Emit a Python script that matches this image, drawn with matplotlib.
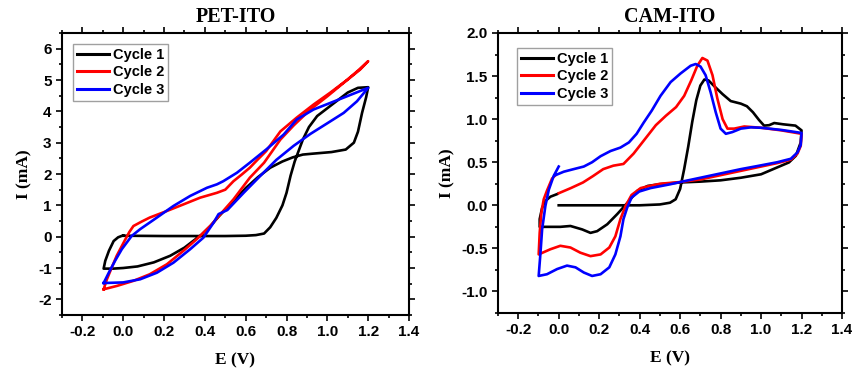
import matplotlib
matplotlib.use("Agg")
from matplotlib import pyplot as plt
from matplotlib.ticker import MultipleLocator, FormatStrFormatter

# ---- PET-ITO (left panel) ----
pet_c1_e = [0.0, 0.2, 0.4, 0.5, 0.6, 0.65, 0.69, 0.72, 0.75, 0.78, 0.80, 0.82, 0.84, 0.86, 0.88,
            0.91, 0.95, 1.0, 1.05, 1.1, 1.15, 1.2,
            1.19, 1.17, 1.15, 1.13, 1.09, 1.02, 0.93, 0.88, 0.83, 0.78, 0.72, 0.66, 0.6, 0.55,
            0.52, 0.47, 0.43, 0.38, 0.35, 0.3, 0.23, 0.15, 0.07, 0.0, -0.05, -0.096,
            -0.088, -0.07, -0.047, -0.025, -0.005, 0.0]
pet_c1_i = [0.03, 0.02, 0.02, 0.02, 0.03, 0.05, 0.1, 0.3, 0.6, 1.0, 1.4, 1.95, 2.4, 2.75, 3.1,
            3.5, 3.85, 4.1, 4.35, 4.6, 4.75, 4.77,
            4.45, 3.95, 3.35, 3.0, 2.78, 2.7, 2.65, 2.62, 2.53, 2.4, 2.2, 1.9, 1.55, 1.2,
            1.0, 0.66, 0.36, 0.04, -0.1, -0.35, -0.61, -0.82, -0.95, -1.0, -1.02, -1.02,
            -0.77, -0.45, -0.14, -0.02, 0.03, 0.03]

pet_c2_e = [-0.096, -0.08, -0.056, -0.032, -0.007, 0.01, 0.03, 0.05, 0.09, 0.13, 0.214, 0.295,
            0.377, 0.459, 0.5, 0.54, 0.58, 0.62, 0.66, 0.7, 0.77, 0.85, 0.933, 1.015, 1.096,
            1.15, 1.2,
            1.16, 1.08, 1.0, 0.917, 0.835, 0.77, 0.69, 0.62, 0.54, 0.475, 0.426, 0.36, 0.295,
            0.214, 0.13, 0.05, -0.03, -0.096]
pet_c2_i = [-1.68, -1.36, -0.98, -0.61, -0.3, -0.09, 0.15, 0.34, 0.48, 0.61, 0.82, 1.03,
            1.245, 1.4, 1.5, 1.77, 1.98, 2.2, 2.47, 2.73, 3.36, 3.8, 4.22, 4.6, 5.0,
            5.3, 5.6,
            5.33, 4.91, 4.48, 4.06, 3.55, 3.1, 2.36, 1.88, 1.19, 0.71, 0.34, -0.08, -0.45,
            -0.88, -1.2, -1.41, -1.57, -1.68]

pet_c3_e = [-0.096, -0.07, -0.04, -0.007, 0.017, 0.041, 0.083, 0.165, 0.246, 0.328, 0.41,
            0.459, 0.49, 0.557, 0.62, 0.7, 0.786, 0.85, 0.933, 1.015, 1.096, 1.2,
            1.145, 1.08, 1.0, 0.917, 0.835, 0.75, 0.67, 0.59, 0.51, 0.467, 0.443, 0.393,
            0.328, 0.246, 0.165, 0.083, 0.0, -0.096]
pet_c3_i = [-1.48, -1.14, -0.77, -0.4, -0.19, 0.02, 0.24, 0.61, 0.98, 1.3, 1.56,
            1.67, 1.77, 2.04, 2.36, 2.78, 3.26, 3.74, 4.06, 4.27, 4.48, 4.75,
            4.32, 3.95, 3.62, 3.28, 2.9, 2.45, 1.93, 1.4, 0.85, 0.72, 0.45, -0.03,
            -0.4, -0.83, -1.15, -1.36, -1.46, -1.48]

# ---- CAM-ITO (right panel) ----
cam_c1_e = [0.0, 0.2, 0.4, 0.5, 0.55, 0.578, 0.6, 0.62, 0.64, 0.66, 0.68, 0.7, 0.72, 0.74,
            0.77, 0.81, 0.85, 0.9, 0.93, 0.96, 0.99, 1.015, 1.04, 1.065, 1.11, 1.17, 1.2,
            1.196, 1.172, 1.138, 1.08, 1.0, 0.9, 0.8, 0.7, 0.6, 0.5, 0.44, 0.39, 0.34, 0.29,
            0.24, 0.19, 0.157, 0.116, 0.058, 0.008, -0.041, -0.094,
            -0.094, -0.082, -0.066, -0.041, -0.008]
cam_c1_i = [0.0, 0.0, 0.0, 0.01, 0.03, 0.07, 0.19, 0.42, 0.68, 0.97, 1.22, 1.39, 1.46, 1.45,
            1.38, 1.29, 1.21, 1.18, 1.15, 1.08, 0.99, 0.925, 0.93, 0.955, 0.94, 0.925, 0.87,
            0.73, 0.575, 0.498, 0.44, 0.36, 0.32, 0.29, 0.275, 0.265, 0.245, 0.225, 0.17, 0.03,
            -0.1, -0.22, -0.3, -0.32, -0.28, -0.24, -0.25, -0.25, -0.25,
            -0.16, -0.03, 0.05, 0.1, 0.13]

cam_c2_e = [0.0, 0.06, 0.12, 0.17, 0.22, 0.27, 0.32, 0.37, 0.43, 0.48, 0.53, 0.58, 0.62,
            0.655, 0.685, 0.71, 0.735, 0.76, 0.784, 0.81, 0.834, 0.867, 0.917, 1.0, 1.1, 1.2,
            1.196, 1.18, 1.147, 1.08, 0.98, 0.9, 0.8, 0.7, 0.6, 0.5, 0.45, 0.405, 0.36, 0.33,
            0.305, 0.28, 0.25, 0.207, 0.157, 0.107, 0.058, 0.008, -0.041, -0.099,
            -0.094, -0.086, -0.074, -0.058, -0.033, -0.016]
cam_c2_i = [0.14, 0.2, 0.265, 0.34, 0.42, 0.46, 0.48, 0.6, 0.78, 0.93, 1.04, 1.14, 1.27,
            1.45, 1.62, 1.71, 1.68, 1.51, 1.24, 1.0, 0.89, 0.89, 0.915, 0.9, 0.87, 0.83,
            0.69, 0.6, 0.53, 0.49, 0.44, 0.4, 0.35, 0.3, 0.27, 0.25, 0.225, 0.2, 0.12, -0.01,
            -0.16, -0.36, -0.49, -0.57, -0.59, -0.55, -0.49, -0.47, -0.51, -0.57,
            -0.32, -0.09, 0.07, 0.17, 0.31, 0.35]

cam_c3_e = [-0.016, 0.025, 0.074, 0.124, 0.165, 0.207, 0.256, 0.305, 0.347, 0.385, 0.42,
            0.46, 0.503, 0.553, 0.602, 0.652, 0.677, 0.701, 0.726, 0.751, 0.776, 0.8, 0.826,
            0.858, 0.9, 0.95, 1.0, 1.1, 1.2,
            1.196, 1.18, 1.147, 1.08, 0.98, 0.9, 0.8, 0.7, 0.6, 0.553, 0.454, 0.398, 0.36,
            0.338, 0.32, 0.305, 0.28, 0.25, 0.207, 0.165, 0.124, 0.083, 0.041, -0.008,
            -0.058, -0.099, -0.09, -0.082, -0.066, -0.049, -0.025, 0.0]
cam_c3_i = [0.35, 0.39, 0.42, 0.45, 0.5, 0.57, 0.63, 0.67, 0.73, 0.83, 0.96,
            1.1, 1.27, 1.43, 1.53, 1.62, 1.64, 1.61, 1.51, 1.31, 1.08, 0.89, 0.83,
            0.85, 0.89, 0.905, 0.9, 0.875, 0.84,
            0.7, 0.614, 0.54, 0.5, 0.455, 0.42, 0.37, 0.32, 0.27, 0.245, 0.2, 0.16, 0.09,
            -0.03, -0.16, -0.36, -0.57, -0.72, -0.8, -0.82, -0.78, -0.72, -0.7, -0.74,
            -0.8, -0.82, -0.55, -0.28, -0.01, 0.18, 0.34, 0.45]

cycle_labels = ["Cycle 1", "Cycle 2", "Cycle 3"]
cycle_colors = ["black", "#ff0000", "#0000ff"]

SERIF = "Liberation Serif"
SANS = "Liberation Sans"


def draw_panel(ax, cycles, title, ylim, ymajor, yfmt, legend_xy):
    for (e, i), label, color in zip(cycles, cycle_labels, cycle_colors):
        ax.plot(e, i, color=color, lw=1.9, label=label, solid_joinstyle="round")

    ax.set_xlim(-0.3, 1.4)
    ax.set_ylim(*ylim)
    ax.xaxis.set_major_locator(MultipleLocator(0.2))
    ax.xaxis.set_minor_locator(MultipleLocator(0.1))
    ax.yaxis.set_major_locator(MultipleLocator(ymajor))
    ax.yaxis.set_minor_locator(MultipleLocator(ymajor / 2))
    ax.xaxis.set_major_formatter(FormatStrFormatter("%.1f"))
    ax.yaxis.set_major_formatter(FormatStrFormatter(yfmt))

    # Origin-like frame: ticks mirrored on every side
    ax.tick_params(which="both", direction="out", top=True, right=True, width=1.2)
    ax.tick_params(which="major", length=4)
    ax.tick_params(which="minor", length=2.5)
    for lab in ax.get_xticklabels() + ax.get_yticklabels():
        lab.set_fontfamily(SANS)
        lab.set_fontweight("bold")
        lab.set_fontsize(11)
    for sp in ax.spines.values():
        sp.set_linewidth(1.5)

    ax.set_xlabel("E (V)", fontfamily=SERIF, fontweight="bold", fontsize=12.5, labelpad=9)
    ax.set_ylabel("I (mA)", fontfamily=SERIF, fontweight="bold", fontsize=12.5, labelpad=4)
    ax.set_title(title, fontfamily=SERIF, fontweight="bold", fontsize=14.5, pad=8)

    leg = ax.legend(loc="upper left", bbox_to_anchor=legend_xy, fancybox=False,
                    frameon=True, handlelength=2.2, handletextpad=0.3, labelspacing=0.25,
                    borderpad=0.25, borderaxespad=0.0,
                    prop={"family": SANS, "weight": "bold", "size": 10.5})
    leg.get_frame().set_edgecolor("#888888")
    leg.get_frame().set_linewidth(1.0)
    for line in leg.get_lines():
        line.set_linewidth(2.2)


fig = plt.figure(figsize=(8.53, 3.74), dpi=100)
ax1 = fig.add_axes([62 / 853, 59 / 374, 347 / 853, 282 / 374])
ax2 = fig.add_axes([498 / 853, 61 / 374, 344 / 853, 280 / 374])

draw_panel(ax1, [(pet_c1_e, pet_c1_i), (pet_c2_e, pet_c2_i), (pet_c3_e, pet_c3_i)],
           "PET-ITO", (-2.5, 6.5), 1.0, "%d", (0.032, 0.961))
draw_panel(ax2, [(cam_c1_e, cam_c1_i), (cam_c2_e, cam_c2_i), (cam_c3_e, cam_c3_i)],
           "CAM-ITO", (-1.25, 2.0), 0.5, "%.1f", (0.055, 0.946))

fig.savefig("out.png", dpi=100)
